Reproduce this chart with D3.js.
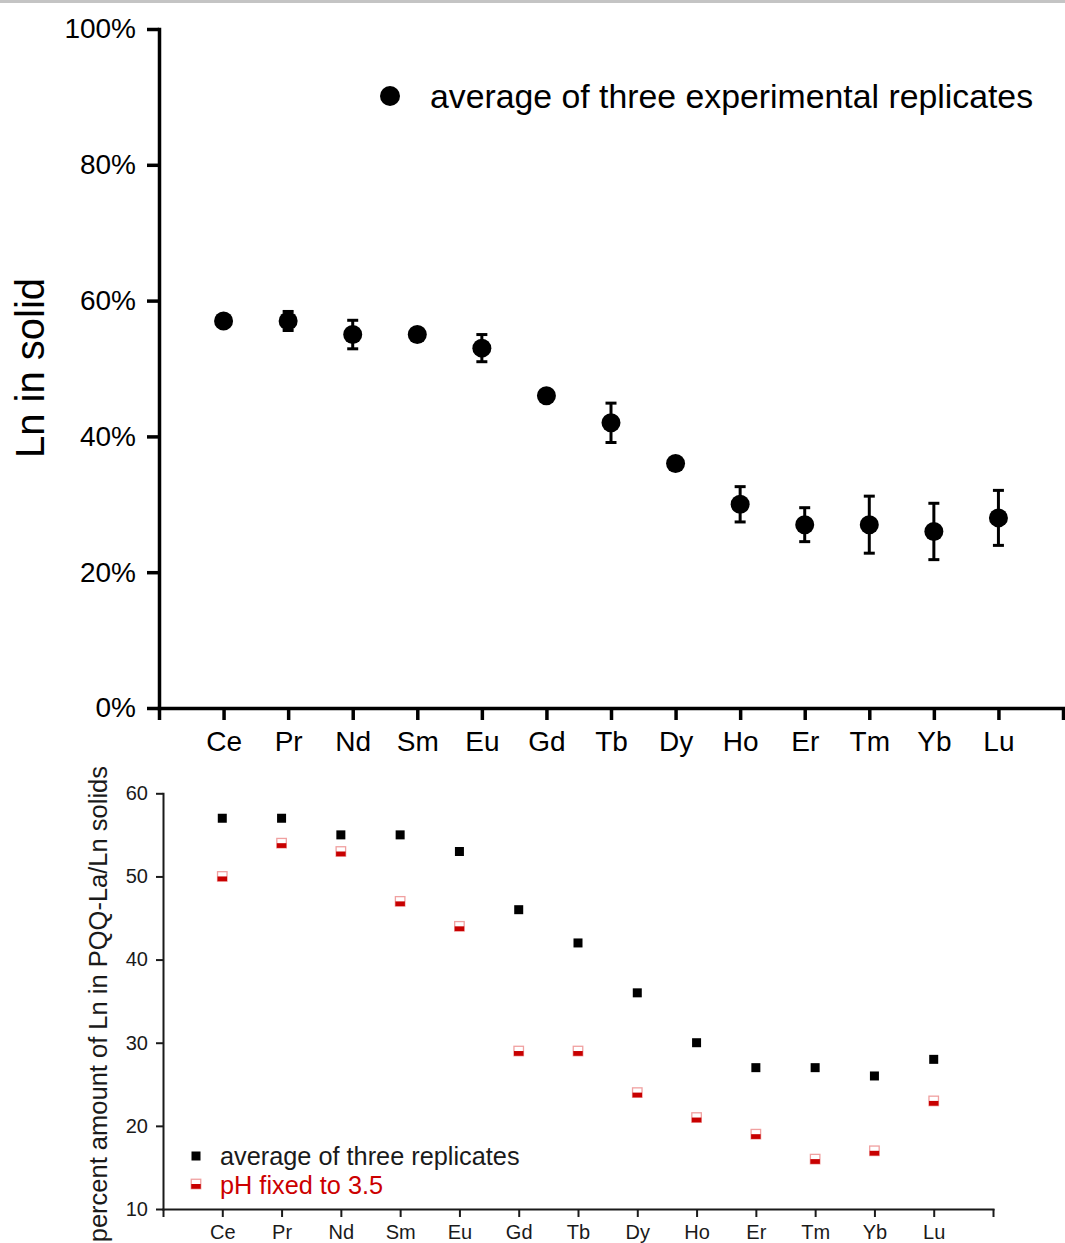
<!DOCTYPE html>
<html>
<head>
<meta charset="utf-8">
<script src="https://cdn.jsdelivr.net/npm/d3@7"></script>
<style>
  html, body { margin: 0; padding: 0; background: #fff; }
  svg { display: block; }
  text { font-family: "Liberation Sans", Arial, sans-serif; }
</style>
</head>
<body>
<svg id="chart" width="1065" height="1243"></svg>
<script>
// ---- data ----
const categories = ["Ce","Pr","Nd","Sm","Eu","Gd","Tb","Dy","Ho","Er","Tm","Yb","Lu"];
const averageValues = [57,57,55,55,53,46,42,36,30,27,27,26,28];
const averageErrors = [0,1.4,2.1,0,2.0,0,2.9,0,2.6,2.5,4.2,4.15,4.05];
const ph35Values = [50,54,53,47,44,29,29,24,21,19,16,17,23];
const topYTicks = [0,20,40,60,80,100];
const bottomYTicks = [10,20,30,40,50,60];
const topLegendLabel = "average of three experimental replicates";
const bottomLegendLabels = ["average of three replicates", "pH fixed to 3.5"];
const topYTitle = "Ln in solid";
const bottomYTitle = "percent amount of Ln in PQQ-La/Ln solids";

const svg = d3.select("#chart");
const FONT = '"Liberation Sans", Arial, sans-serif';

// top thin gray band
svg.append("rect").attr("x",0).attr("y",0).attr("width",1065).attr("height",3).attr("fill","#c4c4c4");

const xDomain = ["__s", ...categories, "__e"];
const fmtCat = d => d.startsWith("__") ? "" : d;

// ===== TOP CHART =====
const xTop = d3.scalePoint().domain(xDomain).range([159, 1063]);
const yTop = d3.scaleLinear().domain([0,100]).range([708, 29]);

const gTopX = svg.append("g").attr("transform","translate(0,708)")
  .call(d3.axisBottom(xTop).tickFormat(fmtCat).tickSize(12).tickSizeOuter(0).tickPadding(11));
const gTopY = svg.append("g").attr("transform","translate(159,0)")
  .call(d3.axisLeft(yTop).tickValues(topYTicks).tickFormat(d => d + "%").tickSize(12).tickSizeOuter(0).tickPadding(11));
[gTopX, gTopY].forEach(g => {
  g.selectAll("path.domain").attr("stroke","#000").attr("stroke-width",3.5).attr("stroke-linecap","square");
  g.selectAll(".tick line").attr("stroke","#000").attr("stroke-width",3.5);
  g.selectAll(".tick text").attr("font-family",FONT).attr("font-size",28).attr("fill","#000");
});

svg.append("text")
  .attr("transform","translate(44,368) rotate(-90)")
  .attr("text-anchor","middle")
  .attr("font-family",FONT).attr("font-size",40).attr("fill","#000")
  .text(topYTitle);

// error bars
const errG = svg.append("g");
categories.forEach((c,i) => {
  const e = averageErrors[i];
  if (!e) return;
  const x = xTop(c);
  const y1 = yTop(averageValues[i] + e), y2 = yTop(averageValues[i] - e);
  errG.append("line").attr("x1",x).attr("x2",x).attr("y1",y1).attr("y2",y2)
    .attr("stroke","#000").attr("stroke-width",3);
  [y1,y2].forEach(yy => errG.append("line").attr("x1",x-5.5).attr("x2",x+5.5).attr("y1",yy).attr("y2",yy)
    .attr("stroke","#000").attr("stroke-width",3));
});
svg.append("g").selectAll("circle").data(categories).join("circle")
  .attr("cx", d => xTop(d))
  .attr("cy", (d,i) => yTop(averageValues[i]))
  .attr("r", 9.5).attr("fill","#000");

// top legend
svg.append("circle").attr("cx",390).attr("cy",96).attr("r",10).attr("fill","#000");
svg.append("text").attr("x",430).attr("y",108).attr("font-family",FONT).attr("font-size",33.8)
  .attr("fill","#000").text(topLegendLabel);

// ===== BOTTOM CHART =====
const xBot = d3.scalePoint().domain(xDomain).range([163, 993]);
const yBot = d3.scaleLinear().domain([10,60]).range([1209, 793.3]);

const gBotX = svg.append("g").attr("transform","translate(0,1209)")
  .call(d3.axisBottom(xBot).tickFormat(fmtCat).tickSize(8).tickSizeOuter(0).tickPadding(8));
const gBotY = svg.append("g").attr("transform","translate(163,0)")
  .call(d3.axisLeft(yBot).tickValues(bottomYTicks).tickSize(7).tickSizeOuter(0).tickPadding(8));
[gBotX, gBotY].forEach(g => {
  g.selectAll("path.domain").attr("stroke","#1a1a1a").attr("stroke-width",2).attr("stroke-linecap","square");
  g.selectAll(".tick line").attr("stroke","#1a1a1a").attr("stroke-width",2);
  g.selectAll(".tick text").attr("font-family",FONT).attr("font-size",20).attr("fill","#1a1a1a");
});

svg.append("text")
  .attr("transform","translate(107,766) rotate(-90)")
  .attr("text-anchor","end")
  .attr("font-family",FONT).attr("font-size",25.5).attr("fill","#1a1a1a")
  .text(bottomYTitle);

const SQ = 9;
svg.append("g").selectAll("rect").data(categories).join("rect")
  .attr("x", d => xBot(d) - SQ/2)
  .attr("y", (d,i) => yBot(averageValues[i]) - SQ/2)
  .attr("width", SQ).attr("height", SQ).attr("fill","#000");

function halfMarker(g, cx, cy) {
  const s = 9.5;
  g.append("rect").attr("x",cx-s/2).attr("y",cy-s/2).attr("width",s).attr("height",s)
    .attr("fill","#fff").attr("stroke","#f0a0a0").attr("stroke-width",1.3);
  g.append("rect").attr("x",cx-s/2).attr("y",cy).attr("width",s).attr("height",s/2)
    .attr("fill","#c80000");
}
const redG = svg.append("g");
categories.forEach((c,i) => halfMarker(redG, xBot(c), yBot(ph35Values[i])));

// bottom legend
svg.append("rect").attr("x",196-SQ/2).attr("y",1156-SQ/2).attr("width",SQ).attr("height",SQ).attr("fill","#000");
svg.append("text").attr("x",220).attr("y",1165).attr("font-family",FONT).attr("font-size",25.3)
  .attr("fill","#1a1a1a").text(bottomLegendLabels[0]);
halfMarker(svg.append("g"), 196, 1184);
svg.append("text").attr("x",220).attr("y",1194).attr("font-family",FONT).attr("font-size",25.3)
  .attr("fill","#cc0000").text(bottomLegendLabels[1]);
</script>
</body>
</html>
